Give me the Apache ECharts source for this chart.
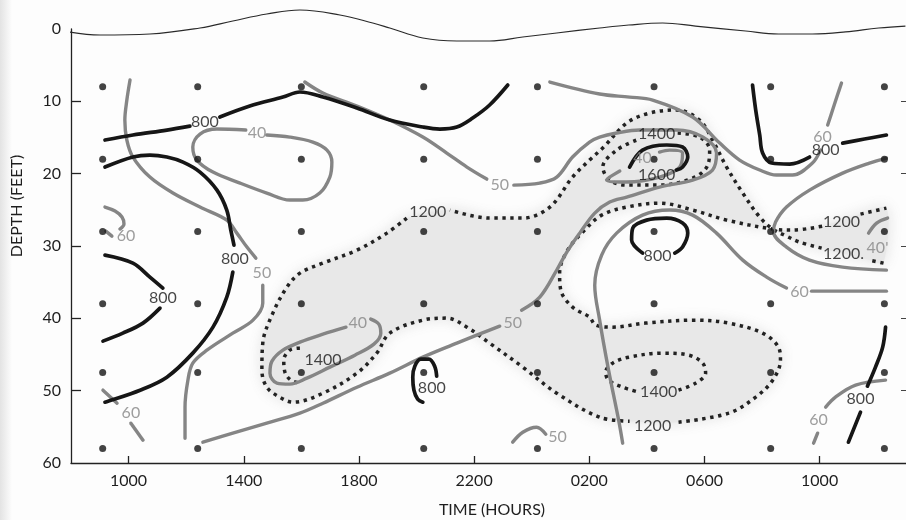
<!DOCTYPE html>
<html>
<head>
<meta charset="utf-8">
<script src="https://cdn.jsdelivr.net/npm/echarts@6/dist/echarts.min.js"></script>
<style>
  html, body { margin: 0; padding: 0; background: #fdfdfd; }
  #chart { width: 906px; height: 520px; }
</style>
</head>
<body>
<div id="chart"></div>
<script>
// ---- Axes ------------------------------------------------------------
// Time is in hours counted from midnight of the first day (26 = 0200 next day)
const timeTicks = [10, 14, 18, 22, 26, 30, 34];
const timeTickLabels = ['1000', '1400', '1800', '2200', '0200', '0600', '1000'];
const depthTicks = [10, 20, 30, 40, 50];

// ---- Sampling stations (time, depth) ----------------------------------
const stationTimes = [9.1, 12.4, 16.0, 20.25, 24.2, 28.25, 32.3, 36.25];
const stationDepths = [8, 18, 28, 38, 47.5, 58];

// ---- Sea surface -------------------------------------------------------
const surface = [[7.93,0.41],[9.01,0.83],[10.74,0.69],[12.48,-0.14],[13.62,-1.11],[14.80,-2.07],[15.95,-2.63],
  [17.34,-1.94],[18.48,-0.83],[19.07,-0.14],[20.22,1.24],[21.40,1.66],[22.54,1.66],[23.69,1.11],[24.87,0.55],
  [26.36,-0.14],[27.37,-0.55],[28.55,-0.83],[29.69,-0.41],[31.43,0.28],[32.57,0.69],[33.75,0.69],[34.90,0.41],
  [36.05,-0.14],[36.98,-0.41]];

// ---- 800 isolines (solid black), split where the value is written ----
const iso800TopLeft = [
  [[9.18,15.35],[10.15,14.66],[11.33,13.97],[12.13,13.42]],
  [[13.17,12.17],[14.21,10.65],[15.36,9.41],[15.95,8.71],[16.75,9.41],[17.93,10.93],[19.07,12.59],[20.22,13.55],
   [20.81,13.83],[21.40,13.55],[21.95,12.31],[22.54,10.51],[23.17,7.75]]
];
const iso800Arc = [
  [[9.18,19.09],[10.15,17.70],[10.74,17.43],[11.33,17.70],[11.89,18.40],[12.48,19.78],[13.07,22.27],[13.41,25.03],
   [13.55,27.80],[13.66,29.88]],
  [[13.62,33.61],[13.41,37.07],[12.93,41.22],[12.23,44.81],[11.33,48.13],[10.40,49.93],[9.18,51.59]]
];
const iso800Left = [
  [[9.18,31.26],[10.15,32.37],[10.74,34.30],[11.19,35.82]],
  [[11.09,38.59],[10.50,40.66],[9.80,42.05],[9.11,43.15]]
];
const iso800Cell = [
  [[20.70,47.99],[20.63,46.61],[20.43,45.64],[20.15,45.64],[19.94,46.61],[19.87,48.13],[19.91,49.93],[20.04,51.18],[20.22,51.59]]
];
const iso800Ring = [
  [[28.97,30.98],[29.24,30.15],[29.42,28.22],[29.24,26.83],[28.69,26.14],[27.99,26.42],[27.51,27.52],[27.47,29.18],[27.85,30.98]]
];
const iso800Right = [
  [[31.67,7.75],[31.78,11.20],[31.92,14.66],[32.02,17.15],[32.33,18.53],[32.96,18.67],[33.65,17.70]],
  [[34.80,15.77],[35.56,15.21],[36.32,14.66]]
];
const iso800LowerRight = [
  [[36.29,41.22],[36.19,43.98],[35.94,46.75],[35.66,49.38]],
  [[35.42,52.97],[35.00,57.12]]
];
const iso1600Solid = [
  [[27.40,19.09],[27.85,16.74],[28.69,16.04],[29.24,16.32],[29.42,17.70],[29.24,19.09],[29.03,19.50]]
];

// ---- 40 / 50 / 60 isolines (solid grey) --------------------------------
const iso50Left = [
  [[10.05,7.05],[9.94,9.82],[9.87,12.59],[9.94,15.35],[10.15,17.70],[10.74,20.47],[11.54,22.68],[12.48,24.62],
   [13.41,26.42],[13.76,28.22],[14.11,30.15],[14.42,31.67]],
  [[14.66,35.41],[14.66,37.90],[14.32,40.25],[13.62,42.05],[12.72,44.40],[12.23,46.20],[12.06,48.55],[11.96,52.28],[11.96,56.57]]
];
const iso40TopLeft = [
  [[14.80,14.66],[15.60,14.94],[16.40,15.63],[16.89,16.74],[17.06,18.40],[16.99,20.47],[16.64,22.68],[16.05,23.65],
   [15.60,23.65],[14.80,22.68],[13.87,21.30],[12.93,19.78],[12.37,18.12],[12.23,16.32],[12.48,14.52],[13.07,13.83],[14.07,13.97]]
];
const iso50Main = [
  [[12.58,57.12],[13.62,55.88],[14.80,54.50],[15.95,53.11],[16.75,51.73],[17.93,49.52],[19.07,47.58],[20.22,45.37],
   [21.40,43.43],[22.09,42.32],[22.89,41.08]],
  [[23.65,38.87],[24.28,37.07],[24.87,33.33],[25.22,30.84],[25.67,28.22],[26.19,25.45],[26.71,23.93],[27.30,23.24],
   [28.44,21.85],[29.59,20.89],[30.28,19.50],[30.42,17.15],[29.94,14.94],[29.03,13.97],[27.75,13.97],[26.95,14.38],
   [26.36,14.94],[26.01,15.63],[25.42,17.70],[24.87,20.47],[24.28,21.30],[23.38,21.58]],
  [[22.44,20.75],[21.75,19.09],[21.05,17.15],[20.22,14.94],[19.07,12.59],[17.93,10.65],[16.75,8.85],[16.12,7.33]]
];
const iso60TopRight = [
  [[24.63,7.33],[26.36,8.99],[27.40,9.41],[28.20,9.82],[29.59,12.17],[30.53,15.77],[31.22,18.12],[31.92,19.50],
   [32.50,20.19],[33.06,20.19],[33.75,18.53],[34.03,16.74]],
  [[34.28,13.28],[34.45,11.20],[34.62,9.13],[34.76,7.47]]
];
const iso40Core = [
  [[28.44,17.01],[28.79,16.74],[29.24,17.15],[29.14,19.09],[28.44,20.47],[27.30,21.16],[26.60,20.89],[27.06,19.64]]
];
const iso40Mid = [
  [[18.41,40.11],[18.69,40.80],[18.76,42.05],[18.52,43.57],[17.86,45.09],[16.99,46.75],[16.19,48.27],[15.60,49.10],
   [15.15,48.96],[14.91,47.58],[14.98,45.92],[15.36,44.40],[15.95,43.29],[16.75,42.19],[17.55,41.22]]
];
const iso40Wedge = [
  [[36.32,17.84],[35.73,18.53],[34.80,19.92],[33.65,22.27],[32.85,24.62],[32.47,26.69],[32.40,28.08],[32.85,30.15],
   [33.65,31.95],[34.80,32.92],[36.32,33.33]]
];
const iso60Mid = [
  [[27.16,57.26],[27.02,54.08],[26.67,47.16],[26.36,40.25],[26.19,35.41],[26.43,31.26],[26.95,28.22],[27.85,25.73],
   [28.79,25.03],[29.59,25.73],[30.42,28.22],[31.33,31.95],[32.16,34.30],[32.85,35.82]],
  [[33.72,36.24],[36.32,36.24]]
];
const iso60TinyLeft = [
  [[9.18,24.62],[9.53,25.17],[9.77,26.00],[9.84,26.97],[9.70,27.66]],
  [[9.21,27.94],[9.42,28.63]]
];
const iso60BottomLeft = [
  [[9.11,49.93],[9.60,51.73]],
  [[10.08,54.50],[10.50,56.85]]
];
const iso60BottomRight = [
  [[33.79,57.26],[33.93,55.88]],
  [[34.21,52.28],[34.55,50.90],[35.25,49.24],[36.29,48.55]]
];
const iso50Bottom = [
  [[23.34,57.12],[23.69,55.74],[24.17,55.05],[24.49,56.02]]
];
const iso40Hook = [
  [[35.70,28.22],[35.98,26.83],[36.36,26.14]]
];

// ---- 1200 / 1400 isolines (dotted) -------------------------------------
const iso1200 = [
  [[36.22,32.37],[35.73,31.95]],
  [[34.07,30.29],[33.30,29.46],[32.85,28.63],[32.37,27.66],[31.92,26.00],[31.33,22.68],[30.77,19.09],[30.28,15.35],
   [29.83,12.59],[29.03,11.20],[28.10,11.62],[27.30,13.00],[26.50,16.32],[26.01,18.12],[25.42,20.47],[24.63,24.62],
   [23.69,26.14],[22.54,26.14],[21.16,25.03]],
  [[19.66,26.14],[18.97,28.22],[17.93,30.57],[16.75,32.37],[15.95,33.75],[15.50,35.68],[15.01,39.28],[14.66,43.43],
   [14.63,47.16],[14.80,49.52],[15.25,50.90],[15.71,51.59],[16.75,50.35],[17.93,47.58],[18.62,44.81],[19.07,42.05],
   [20.22,40.25],[21.05,39.97],[21.75,41.22],[22.54,43.43],[23.69,46.75],[24.87,50.35],[26.36,53.67],[27.40,54.22]],
  [[29.10,54.36],[30.84,53.11],[31.78,50.90],[32.37,48.55],[32.64,45.78],[32.57,43.98],[32.02,42.05],[30.84,40.66],
   [29.69,40.25],[27.96,40.66],[26.81,41.22],[26.22,40.94],[26.01,39.83],[25.42,38.45],[25.01,36.10],[24.97,33.75],
   [25.25,30.57],[25.84,27.80],[26.43,25.73],[27.30,24.62],[28.44,24.07],[29.59,25.03],[30.77,26.42],[32.37,27.66],
   [33.06,27.80],[34.10,27.25]],
  [[35.42,25.59],[36.32,24.76]]
];
const iso1400Upper = [
  [[29.07,14.38],[29.83,14.94],[30.18,16.74],[30.08,19.09],[29.59,20.61],[28.44,21.58],[27.30,21.58],[26.71,20.89],
   [26.47,19.09],[26.95,16.74],[27.65,15.35]]
];
const iso1400Lower = [
  [[29.10,49.93],[29.69,48.96],[30.04,47.58],[29.94,46.20],[29.45,45.09],[28.55,44.81],[27.37,45.37],[26.81,46.20],
   [26.57,47.44],[26.67,48.55],[27.16,49.52],[27.72,50.21]]
];
const iso1400Left = [
  [[15.95,44.12],[15.60,44.40],[15.39,45.78],[15.43,47.44],[15.64,48.55],[15.98,48.96]]
];

// ---- Isoline values written on the chart (time, depth, text) -----------
const blackLabels = [
  [12.65,12.86,'800'],[13.69,31.81,'800'],[11.19,37.21,'800'],[20.53,49.65,'800'],[28.37,31.40,'800'],
  [34.21,16.74,'800'],[35.42,51.18,'800'],
  [20.39,25.31,'1200'],[28.20,54.91,'1200'],[34.76,26.69,'1200'],[34.83,31.12,'1200.'],
  [28.34,14.52,'1400'],[16.75,45.78,'1400'],[28.41,50.21,'1400'],[28.34,20.19,'1600']
];
const greyLabels = [
  [14.46,14.38,'40'],[14.63,33.75,'50'],[22.89,21.58,'50'],[23.34,40.66,'50'],[24.90,56.43,'50'],
  [17.96,40.66,'40'],[27.85,17.84,'40'],[9.91,28.63,'60'],[10.08,53.11,'60'],[34.10,14.94,'60'],
  [33.30,36.38,'60'],[33.96,54.08,'60'],[36.01,30.29,'40\'']
];

// Region enclosed by the 1200 isoline (shaded)
const shadeRegion = iso1200.flat();

// ---- Styles ------------------------------------------------------------
const FONT = 'Lato, "Open Sans", sans-serif';
const INK = '#161616';
const GREY = '#858585';
const blackStyle = { color: INK, width: 3.7, cap: 'round', join: 'round' };
const greyStyle = { color: GREY, width: 3.4, cap: 'round', join: 'round' };
const dotStyle = { color: '#222', width: 3.5, type: [3.4, 4.6], cap: 'butt' };

function isoSeries(segments, style, z) {
  return segments.map(seg => ({
    type: 'line',
    data: seg,
    symbol: 'none',
    smooth: 0.35,
    silent: true,
    z: z,
    lineStyle: style
  }));
}

function labelSeries(items, color, z) {
  return {
    type: 'scatter',
    data: items.map(it => ({ value: [it[0], it[1]], name: it[2] })),
    symbolSize: 0,
    silent: true,
    z: z,
    label: {
      show: true, position: 'inside', formatter: '{b}',
      color: color, fontSize: 16, fontFamily: FONT
    }
  };
}

const stationData = [];
stationDepths.forEach(d => stationTimes.forEach(t => stationData.push([t, d])));

const series = [].concat(
  [{
    type: 'custom',
    coordinateSystem: 'cartesian2d',
    data: [[20, 30]],
    silent: true,
    z: 1,
    renderItem: function (params, api) {
      return {
        type: 'polygon',
        shape: { points: shadeRegion.map(p => api.coord(p)), smooth: 0.3 },
        style: { fill: '#e8e8e8', shadowBlur: 14, shadowColor: 'rgba(220,220,220,0.9)' }
      };
    }
  }],
  [{
    type: 'line', data: surface, symbol: 'none', smooth: 0.4, silent: true, clip: false, z: 5,
    lineStyle: { color: '#2a2a2a', width: 1.2 }
  }],
  isoSeries(iso1200, dotStyle, 3),
  isoSeries(iso1400Upper, dotStyle, 3),
  isoSeries(iso1400Lower, dotStyle, 3),
  isoSeries(iso1400Left, dotStyle, 3),
  isoSeries(iso50Left, greyStyle, 4),
  isoSeries(iso40TopLeft, greyStyle, 4),
  isoSeries(iso50Main, greyStyle, 4),
  isoSeries(iso60TopRight, greyStyle, 4),
  isoSeries(iso40Core, greyStyle, 4),
  isoSeries(iso40Mid, greyStyle, 4),
  isoSeries(iso40Wedge, greyStyle, 4),
  isoSeries(iso60Mid, greyStyle, 4),
  isoSeries(iso60TinyLeft, greyStyle, 4),
  isoSeries(iso60BottomLeft, greyStyle, 4),
  isoSeries(iso60BottomRight, greyStyle, 4),
  isoSeries(iso50Bottom, greyStyle, 4),
  isoSeries(iso40Hook, greyStyle, 4),
  isoSeries(iso800TopLeft, blackStyle, 5),
  isoSeries(iso800Arc, blackStyle, 5),
  isoSeries(iso800Left, blackStyle, 5),
  isoSeries(iso800Cell, blackStyle, 5),
  isoSeries(iso800Ring, blackStyle, 5),
  isoSeries(iso800Right, blackStyle, 5),
  isoSeries(iso800LowerRight, blackStyle, 5),
  isoSeries(iso1600Solid, blackStyle, 5),
  [{
    type: 'scatter', data: stationData, symbol: 'circle', symbolSize: 7, silent: true, z: 6,
    itemStyle: { color: '#141414' }
  }],
  [labelSeries(blackLabels, INK, 7), labelSeries(greyLabels, GREY, 7)]
);

const chart = echarts.init(document.getElementById('chart'), null, { renderer: 'canvas' });
chart.setOption({
  animation: false,
  backgroundColor: '#fdfdfd',
  grid: { left: 71, right: 0, top: 29, bottom: 57 },
  xAxis: {
    type: 'value', min: 8, max: 37,
    axisLine: { show: true, onZero: false, lineStyle: { color: '#222', width: 1.3 } },
    axisTick: { show: true, inside: true, length: 7, customValues: timeTicks, lineStyle: { color: '#222', width: 1.3 } },
    axisLabel: {
      customValues: timeTicks, margin: 10, color: '#1e1e1e', fontSize: 16, fontFamily: FONT,
      formatter: v => timeTickLabels[timeTicks.indexOf(Math.round(v))]
    },
    splitLine: { show: false }
  },
  yAxis: [
    {
      type: 'value', inverse: true, min: 0, max: 60, interval: 10,
      axisLine: { show: true, onZero: false, lineStyle: { color: '#222', width: 1.3 } },
      axisTick: { show: true, inside: true, length: 10, customValues: depthTicks, lineStyle: { color: '#222', width: 1.3 } },
      axisLabel: { margin: 10, color: '#1e1e1e', fontSize: 16, fontFamily: FONT },
      splitLine: { show: false }
    },
    {
      type: 'value', position: 'right', inverse: true, min: 0, max: 60, interval: 10,
      axisLine: { show: false, onZero: false },
      axisTick: { show: true, inside: true, length: 5, customValues: depthTicks, lineStyle: { color: '#444' } },
      axisLabel: { show: false },
      splitLine: { show: false }
    }
  ],
  graphic: [
    {
      type: 'rect', left: 0, top: 0, z: -1, silent: true,
      shape: { width: 12, height: 520 },
      style: {
        fill: new echarts.graphic.LinearGradient(0, 0, 1, 0, [
          { offset: 0, color: '#e3e3e3' }, { offset: 1, color: '#fdfdfd' }
        ])
      }
    },
    {
      type: 'text', x: 17, y: 206, rotation: Math.PI / 2, silent: true,
      style: { text: 'DEPTH (FEET)', fill: '#1e1e1e', font: '16px ' + FONT, align: 'center', verticalAlign: 'middle' }
    },
    {
      type: 'text', x: 492, y: 510, silent: true,
      style: { text: 'TIME (HOURS)', fill: '#1e1e1e', font: '16px ' + FONT, align: 'center', verticalAlign: 'middle' }
    }
  ],
  series: series
});
</script>
</body>
</html>
